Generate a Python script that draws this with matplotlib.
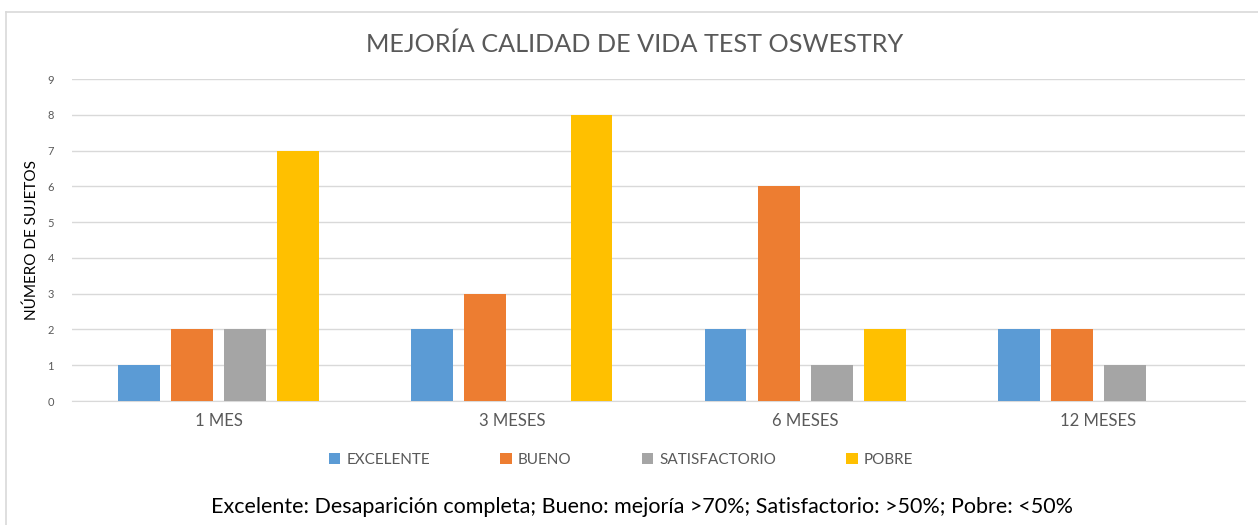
import numpy as np
import matplotlib
matplotlib.use("Agg")
import matplotlib.pyplot as plt
from matplotlib.lines import Line2D
from matplotlib.patches import Patch

plt.rcParams['font.family'] = ['Lato', 'DejaVu Sans']

# data
categories = ["1 MES", "3 MESES", "6 MESES", "12 MESES"]
series_names = ["EXCELENTE", "BUENO", "SATISFACTORIO", "POBRE"]
excelente = [1, 2, 2, 2]
bueno = [2, 3, 6, 2]
satisfactorio = [2, 0, 1, 1]
pobre = [7, 8, 2, 0]
colors = ["#5B9BD5", "#ED7D31", "#A5A5A5", "#FFC000"]

title = "MEJORÍA CALIDAD DE VIDA TEST OSWESTRY"
ylabel = "NÚMERO DE SUJETOS"
note = "Excelente: Desaparición completa; Bueno: mejoría >70%; Satisfactorio: >50%; Pobre: <50%"

W, H = 1258, 525
fig = plt.figure(figsize=(W / 100, H / 100), dpi=100)
ax = fig.add_axes([72 / W, (H - 401) / H, (1245 - 72) / W, 322 / H])

values = [excelente, bueno, satisfactorio, pobre]
x = np.arange(len(categories))
bw = 0.143
step = 0.181
for k, (vals, c) in enumerate(zip(values, colors)):
    ax.bar(x + (k - 1.5) * step, vals, width=bw, color=c, zorder=3)

ax.set_xlim(-0.5, len(categories) - 0.5)
ax.set_ylim(0, 9)
ax.set_yticks(range(0, 10))
ax.grid(axis='y', color='#D9D9D9', linewidth=1, zorder=0)
for s in ['top', 'right', 'left']:
    ax.spines[s].set_visible(False)
ax.spines['bottom'].set_color('#D9D9D9')
ax.tick_params(axis='y', length=0, labelsize=8, labelcolor='#595959', pad=13)
ax.tick_params(axis='x', length=0, labelsize=12, labelcolor='#595959', pad=9)
ax.set_xticks(x)
ax.set_xticklabels(categories)
ax.set_ylabel(ylabel, fontsize=11, color='black', labelpad=6)

fig.text(635 / W, 1 - 44 / H, title, ha='center', va='center', fontsize=18.2, color='#595959')

handles = [Patch(facecolor=c, edgecolor='none') for c in colors]
fig.legend(handles, series_names, loc='center', bbox_to_anchor=(621 / W, 1 - 460 / H),
           ncol=4, frameon=False, fontsize=11, handlelength=0.75, handleheight=0.75,
           handletextpad=0.4, columnspacing=4.6, labelcolor='#595959')

fig.text(642 / W, 1 - 507 / H, note, ha='center', va='center', fontsize=15.5, color='black')

# chart border
fig.add_artist(Line2D([6 / W, 1], [1 - 12 / H, 1 - 12 / H], color='#D9D9D9', linewidth=1.2))
fig.add_artist(Line2D([6 / W, 6 / W], [0, 1 - 12 / H], color='#D9D9D9', linewidth=1.2))

fig.savefig("out.png", dpi=100)
